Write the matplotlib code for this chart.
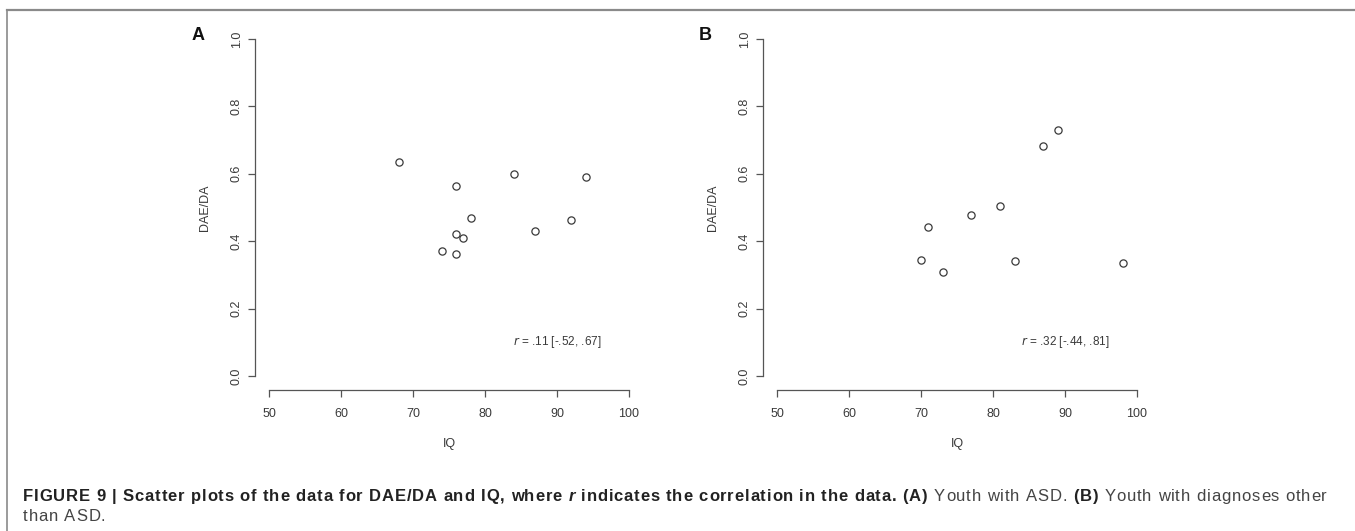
import matplotlib
matplotlib.use("Agg")
import matplotlib.pyplot as plt
from matplotlib.lines import Line2D

plt.rcParams['font.family'] = ['Liberation Sans', 'DejaVu Sans']

# panel A: youth with ASD
iq_asd = [68, 76, 84, 94, 78, 76, 77, 74, 76, 87, 92]
ratio_asd = [0.634, 0.564, 0.599, 0.591, 0.468, 0.422, 0.410, 0.372, 0.361, 0.430, 0.462]

# panel B: youth with other diagnoses
iq_other = [70, 71, 73, 77, 81, 83, 87, 89, 98]
ratio_other = [0.343, 0.442, 0.309, 0.478, 0.504, 0.342, 0.681, 0.729, 0.334]

corr_labels = [".11 [-.52, .67]", ".32 [-.44, .81]"]
panel_letters = ["A", "B"]
x_ticks = [50, 60, 70, 80, 90, 100]
y_ticks = [0.0, 0.2, 0.4, 0.6, 0.8, 1.0]

W, H = 1355, 531
fig = plt.figure(figsize=(W / 100, H / 100), dpi=100)

ink = "#3a3a3a"
lefts = [254.6, 762.6]
ax_w = 388.8
ax_top, ax_bot = 25.5, 389.5

panels = [(iq_asd, ratio_asd), (iq_other, ratio_other)]
for i, (xs, ys) in enumerate(panels):
    ax = fig.add_axes([lefts[i] / W, 1 - ax_bot / H, ax_w / W, (ax_bot - ax_top) / H])
    ax.plot(xs, ys, linestyle="none", marker="o", markersize=5.2,
            markerfacecolor="none", markeredgecolor=ink, markeredgewidth=0.9)
    ax.set_xlim(48, 102)
    ax.set_ylim(-0.04, 1.04)
    for s in ["top", "right"]:
        ax.spines[s].set_visible(False)
    ax.spines["left"].set_bounds(0, 1)
    ax.spines["bottom"].set_bounds(50, 100)
    for s in ["left", "bottom"]:
        ax.spines[s].set_color("#555555")
        ax.spines[s].set_linewidth(0.9)
    ax.set_xticks(x_ticks)
    ax.set_yticks(y_ticks)
    ax.set_xticklabels([str(t) for t in x_ticks])
    ax.set_yticklabels(["%.1f" % t for t in y_ticks], rotation=90, va="center")
    ax.tick_params(direction="out", length=5, width=0.9, color="#555555",
                   labelsize=9, labelcolor=ink)
    ax.tick_params(axis="x", pad=8.5)
    ax.tick_params(axis="y", pad=3.5)
    ax.set_xlabel("IQ", fontsize=9, color=ink, labelpad=13)
    ax.set_ylabel("DAE/DA", fontsize=9, color=ink, labelpad=14)
    ax.text(90, 0.1, r"$\it{r}$ = " + corr_labels[i], ha="center", va="center",
            fontsize=8.5, color=ink)
    fig.text((lefts[i] - 57) / W, 1 - 36 / H, panel_letters[i], fontsize=13,
             fontweight="bold", color="#111111", ha="center", va="center")

# frame lines around the figure
fig.add_artist(Line2D([7.5 / W, 1.0], [1 - 10 / H, 1 - 10 / H], color="#8a8a8a", lw=1.6))
fig.add_artist(Line2D([7.5 / W, 7.5 / W], [0, 1 - 10 / H], color="#8a8a8a", lw=1.2))

# caption, laid out one character at a time so it can be tracked out
renderer = fig.canvas.get_renderer()
cap_size = 12
line1 = [
    ("FIGURE 9 | Scatter plots of the data for DAE/DA and IQ, where ", "bold", "normal"),
    ("r", "bold", "italic"),
    (" indicates the correlation in the data. ", "bold", "normal"),
    ("(A)", "bold", "normal"),
    (" Youth with ASD. ", "normal", "normal"),
    ("(B)", "bold", "normal"),
    (" Youth with diagnoses other", "normal", "normal"),
]
line2 = [("than ASD.", "normal", "normal")]

_widths = {}


def char_width(c, weight, style):
    key = (c, weight, style)
    if key not in _widths:
        t = fig.text(0, 0, "|" + c + "|", fontsize=cap_size, fontweight=weight, fontstyle=style)
        d = fig.text(0, 0, "||", fontsize=cap_size, fontweight=weight, fontstyle=style)
        _widths[key] = t.get_window_extent(renderer).width - d.get_window_extent(renderer).width
        t.remove()
        d.remove()
    return _widths[key]


def chars(pieces):
    return [(c, w, s) for txt, w, s in pieces for c in txt]


def draw_line(pieces, x0, y_base, track):
    x = x0
    for c, weight, style in chars(pieces):
        if c != " ":
            col = "#222222" if weight == "bold" else "#444444"
            fig.text(x / W, 1 - y_base / H, c, fontsize=cap_size, fontweight=weight,
                     fontstyle=style, color=col, ha="left", va="baseline")
        x += char_width(c, weight, style) + track


x_start, x_end = 23, 1327
cs = chars(line1)
natural = sum(char_width(*c) for c in cs)
track = (x_end - x_start - natural) / (len(cs) - 1)

draw_line(line1, x_start, 501, track)
draw_line(line2, x_start, 521, track)

fig.savefig("out.png", dpi=100)
